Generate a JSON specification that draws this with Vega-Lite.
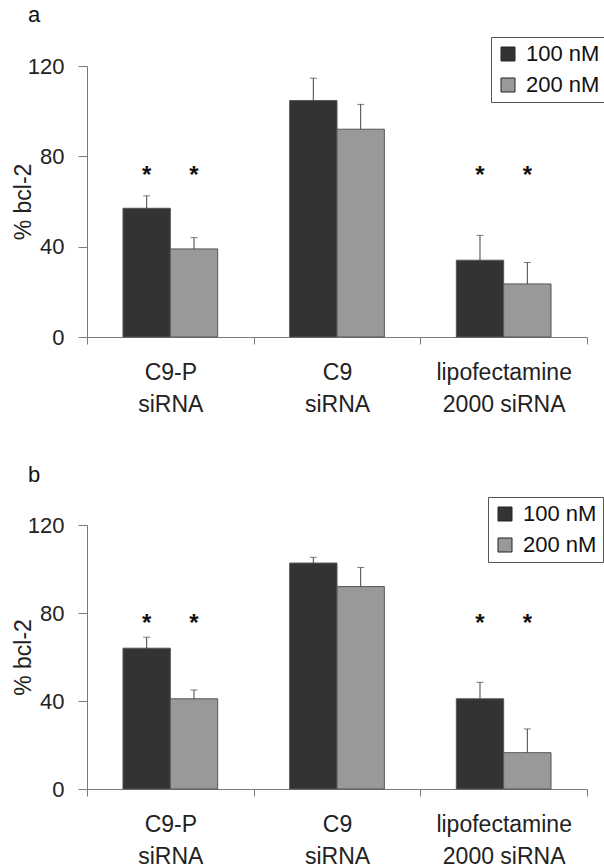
{
  "$schema": "https://vega.github.io/schema/vega-lite/v6.json",
  "padding": {"left": 12, "top": 3, "right": 0, "bottom": 0},
  "spacing": 47,
  "config": {
    "font": "Liberation Sans",
    "view": {"stroke": null},
    "axis": {"domainColor": "#7a7a7a", "tickColor": "#7a7a7a", "labelColor": "#222", "titleColor": "#222", "grid": false, "titleFontWeight": "normal"},
    "title": {"fontSize": 22, "fontWeight": "normal", "anchor": "start", "frame": "group", "color": "#111", "offset": 10},
    "legend": {"orient": "none", "title": null, "strokeColor": "#555", "fillColor": "white", "padding": 6, "symbolType": "square", "symbolSize": 196, "symbolStrokeColor": "#222", "symbolStrokeWidth": 1, "labelFontSize": 22, "labelColor": "#111", "rowPadding": 9, "labelOffset": 7}
  },
  "data": {"values": [
    {"panel": "a", "group": "C9-P siRNA", "dose": "100 nM", "mean": 57, "upper": 62.5, "sig": "*", "star": 71.3},
    {"panel": "a", "group": "C9-P siRNA", "dose": "200 nM", "mean": 39, "upper": 44, "sig": "*", "star": 71.3},
    {"panel": "a", "group": "C9 siRNA", "dose": "100 nM", "mean": 104.7, "upper": 114.6, "sig": "", "star": 71.3},
    {"panel": "a", "group": "C9 siRNA", "dose": "200 nM", "mean": 92, "upper": 103, "sig": "", "star": 71.3},
    {"panel": "a", "group": "lipofectamine 2000 siRNA", "dose": "100 nM", "mean": 34, "upper": 45, "sig": "*", "star": 71.3},
    {"panel": "a", "group": "lipofectamine 2000 siRNA", "dose": "200 nM", "mean": 23.5, "upper": 33, "sig": "*", "star": 71.3},
    {"panel": "b", "group": "C9-P siRNA", "dose": "100 nM", "mean": 64, "upper": 69, "sig": "*", "star": 75},
    {"panel": "b", "group": "C9-P siRNA", "dose": "200 nM", "mean": 41, "upper": 45, "sig": "*", "star": 75},
    {"panel": "b", "group": "C9 siRNA", "dose": "100 nM", "mean": 102.7, "upper": 105.3, "sig": "", "star": 75},
    {"panel": "b", "group": "C9 siRNA", "dose": "200 nM", "mean": 92, "upper": 100.7, "sig": "", "star": 75},
    {"panel": "b", "group": "lipofectamine 2000 siRNA", "dose": "100 nM", "mean": 41, "upper": 48.5, "sig": "*", "star": 75},
    {"panel": "b", "group": "lipofectamine 2000 siRNA", "dose": "200 nM", "mean": 16.5, "upper": 27.3, "sig": "*", "star": 75}
  ]},
  "resolve": {"scale": {"color": "independent"}},
  "vconcat": [
    {
      "title": {"text": "a", "dx": -59},
      "width": 500, "height": 271,
      "transform": [{"filter": "datum.panel == 'a'"}],
      "encoding": {
        "x": {"field": "group", "type": "nominal", "sort": ["C9-P siRNA", "C9 siRNA", "lipofectamine 2000 siRNA"], "scale": {"paddingInner": 0, "paddingOuter": 0},
          "axis": {"title": null, "labelAngle": 0, "tickBand": "extent", "tickSize": 7, "labelFontSize": 23, "labelPadding": 17, "labelLineHeight": 32, "labelBaseline": "top",
            "labelExpr": "!isValid(datum.value) ? '' : datum.value == 'lipofectamine 2000 siRNA' ? ['lipofectamine', '2000 siRNA'] : split(datum.value, ' ')"}},
        "xOffset": {"field": "dose", "type": "nominal", "scale": {"paddingInner": 0, "paddingOuter": 0.76}}
      },
      "layer": [
        {"mark": {"type": "bar", "stroke": "#555", "strokeWidth": 1},
          "encoding": {
            "y": {"field": "mean", "type": "quantitative", "title": "% bcl-2", "scale": {"domain": [0, 120]},
              "axis": {"values": [0, 40, 80, 120], "tickSize": 9, "labelPadding": 14, "labelFontSize": 22, "titleFontSize": 23, "titlePadding": -8}},
            "color": {"field": "dose", "type": "nominal", "scale": {"domain": ["100 nM", "200 nM"], "range": ["#333333", "#999999"]},
              "legend": {"legendX": 404, "legendY": -29}}
          }},
        {"mark": {"type": "rule", "color": "#444", "strokeWidth": 1},
          "encoding": {"y": {"field": "mean", "type": "quantitative", "title": "% bcl-2"}, "y2": {"field": "upper"}}},
        {"mark": {"type": "tick", "color": "#444", "size": 7, "thickness": 1, "orient": "horizontal"},
          "encoding": {"y": {"field": "upper", "type": "quantitative", "title": "% bcl-2"}}},
        {"mark": {"type": "text", "fontSize": 24, "fontWeight": "bold", "color": "#111", "baseline": "middle"},
          "encoding": {"y": {"field": "star", "type": "quantitative", "title": "% bcl-2"}, "text": {"field": "sig"}}}
      ]
    },
    {
      "title": {"text": "b", "dx": -59},
      "width": 500, "height": 264,
      "transform": [{"filter": "datum.panel == 'b'"}],
      "encoding": {
        "x": {"field": "group", "type": "nominal", "sort": ["C9-P siRNA", "C9 siRNA", "lipofectamine 2000 siRNA"], "scale": {"paddingInner": 0, "paddingOuter": 0},
          "axis": {"title": null, "labelAngle": 0, "tickBand": "extent", "tickSize": 7, "labelFontSize": 23, "labelPadding": 17, "labelLineHeight": 32, "labelBaseline": "top",
            "labelExpr": "!isValid(datum.value) ? '' : datum.value == 'lipofectamine 2000 siRNA' ? ['lipofectamine', '2000 siRNA'] : split(datum.value, ' ')"}},
        "xOffset": {"field": "dose", "type": "nominal", "scale": {"paddingInner": 0, "paddingOuter": 0.76}}
      },
      "layer": [
        {"mark": {"type": "bar", "stroke": "#555", "strokeWidth": 1},
          "encoding": {
            "y": {"field": "mean", "type": "quantitative", "title": "% bcl-2", "scale": {"domain": [0, 120]},
              "axis": {"values": [0, 40, 80, 120], "tickSize": 9, "labelPadding": 14, "labelFontSize": 22, "titleFontSize": 23, "titlePadding": -8}},
            "color": {"field": "dose", "type": "nominal", "scale": {"domain": ["100 nM", "200 nM"], "range": ["#333333", "#999999"]},
              "legend": {"legendX": 401, "legendY": -28}}
          }},
        {"mark": {"type": "rule", "color": "#444", "strokeWidth": 1},
          "encoding": {"y": {"field": "mean", "type": "quantitative", "title": "% bcl-2"}, "y2": {"field": "upper"}}},
        {"mark": {"type": "tick", "color": "#444", "size": 7, "thickness": 1, "orient": "horizontal"},
          "encoding": {"y": {"field": "upper", "type": "quantitative", "title": "% bcl-2"}}},
        {"mark": {"type": "text", "fontSize": 24, "fontWeight": "bold", "color": "#111", "baseline": "middle"},
          "encoding": {"y": {"field": "star", "type": "quantitative", "title": "% bcl-2"}, "text": {"field": "sig"}}}
      ]
    }
  ]
}
